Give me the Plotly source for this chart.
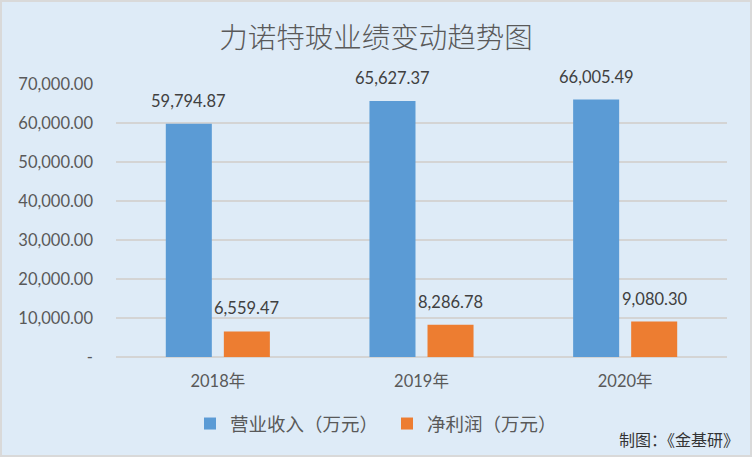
import plotly.graph_objects as go

categories = ["2018年", "2019年", "2020年"]
revenue = [59794.87, 65627.37, 66005.49]
profit = [6559.47, 8286.78, 9080.30]
series_names = ["营业收入（万元）", "净利润（万元）"]
tick_vals = [0, 10000, 20000, 30000, 40000, 50000, 60000, 70000]
tick_text = ["-", "10,000.00", "20,000.00", "30,000.00", "40,000.00", "50,000.00", "60,000.00", "70,000.00"]

FONT = "Lato, Noto Sans CJK SC, sans-serif"
CJK = "Noto Sans CJK SC, sans-serif"
colors = ["#5B9BD5", "#ED7D31"]

fig = go.Figure()
for name, vals, col in zip(series_names, [revenue, profit], colors):
    fig.add_trace(go.Bar(
        x=categories, y=vals, name=name,
        marker=dict(color=col, line=dict(width=0)),
        hoverinfo="x+y+name",
    ))

W, H = 752, 457
ml, mr, mt, mb = 116, 25, 84, 100
pw, ph = W - ml - mr, H - mt - mb

# data labels, placed above each bar at its data value
annotations = []
for vals, xs in zip([revenue, profit], [-29, 29]):
    for c, v in zip(categories, vals):
        annotations.append(dict(x=c, y=v, xref="x", yref="y", text=f"{v:,.2f}", showarrow=False,
                                xanchor="center", yanchor="bottom", xshift=xs, yshift=11,
                                font=dict(family=FONT, size=16.5, color="#404040")))
annotations.append(dict(text="制图：《金基研》", xref="paper", yref="paper",
                        x=(W - 11 - ml) / pw, xanchor="right", y=-(439 - (mt + ph)) / ph, yanchor="middle",
                        showarrow=False, font=dict(family=CJK, size=16, color="#333333")))

fig.update_layout(
    width=W, height=H,
    margin=dict(l=ml, r=mr, t=mt, b=mb, autoexpand=False),
    paper_bgcolor="#DEEBF7", plot_bgcolor="#DEEBF7",
    barmode="group", bargap=0.43, bargroupgap=0.207,
    title=dict(text="力诺特玻业绩变动趋势图", x=0.5, xanchor="center", y=1 - 38 / H, yanchor="middle",
               font=dict(family=CJK, size=28.5, color="#595959", weight=300)),
    font=dict(family=FONT, color="#595959"),
    showlegend=True,
    legend=dict(orientation="h", x=(190 - ml) / pw, xanchor="left", y=-(424 - (mt + ph)) / ph, yanchor="middle",
                font=dict(family=CJK, size=18.5, color="#595959"), bgcolor="rgba(0,0,0,0)",
                itemwidth=30, entrywidth=152, traceorder="normal"),
    xaxis=dict(showgrid=False, showline=False, ticks="", ticklabelstandoff=12,
               tickfont=dict(family=FONT, size=16.5, color="#595959")),
    yaxis=dict(range=[0, 70000], tickvals=tick_vals, ticktext=tick_text, showgrid=True, gridcolor="#D4D4D4",
               gridwidth=1.5, zeroline=True, zerolinecolor="#D4D4D4", zerolinewidth=1.5, showline=False,
               ticks="", ticklabelstandoff=22, tickfont=dict(family=FONT, size=16.5, color="#595959")),
    annotations=annotations,
    shapes=[dict(type="rect", xref="paper", yref="paper",
                 x0=-(ml - 1) / pw, x1=1 + (mr - 1) / pw, y0=-(mb - 1) / ph, y1=1 + (mt - 1) / ph,
                 line=dict(color="#D9D9D9", width=2), fillcolor="rgba(0,0,0,0)", layer="below")],
)

fig.write_html("out.html", config={"displayModeBar": False},
               post_script="document.body.style.margin='0';document.body.style.padding='0';")
